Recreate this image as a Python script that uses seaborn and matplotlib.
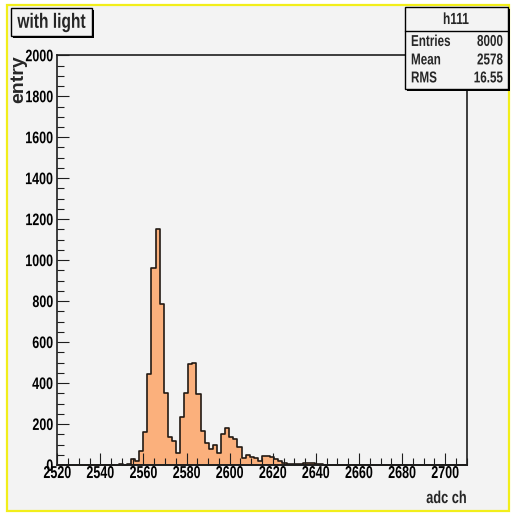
import numpy as np
import matplotlib
matplotlib.use("Agg")
import matplotlib.pyplot as plt
from matplotlib.patches import Rectangle
from matplotlib.lines import Line2D
from matplotlib.patheffects import AbstractPathEffect
from matplotlib.transforms import Affine2D
from matplotlib.ticker import MultipleLocator
import seaborn as sns

# ---- histogram h111: 100 bins over [2520, 2710) ----
X_MIN, X_MAX, N_BINS = 2520, 2710, 100
counts = (
    [0] * 10
    + [1, 1, 2, 1, 2, 3, 2, 4]
    + [31, 21, 70, 160, 444, 963, 1154, 784, 350, 135, 117, 58,
       233, 353, 494, 499, 345, 164, 106, 78, 98, 60,
       150, 179, 138, 125, 88, 34, 47, 41, 33, 21, 42, 42, 40]
    + [30, 20, 11, 6, 5, 5, 6, 10, 10, 9, 4, 3, 2, 2, 1, 1, 1, 1]
    + [0] * 29
)
x_ticks = [2520, 2540, 2560, 2580, 2600, 2620, 2640, 2660, 2680, 2700]
y_ticks = [0, 200, 400, 600, 800, 1000, 1200, 1400, 1600, 1800, 2000]

hist_name = "h111"
stat_entries = "8000"
stat_mean = "2578"
stat_rms = "16.55"
title_text = "with light"
x_title = "adc ch"
y_title = "entry"

FILL = "#fbb07c"
EDGE = "#231a14"
PAD_BG = "#f3f3f3"
FRAME = "#1e1e1e"

W, H = 511, 515


class Tall(AbstractPathEffect):
    """Stretch glyphs vertically around a pivot (tall, narrow lettering)."""

    def __init__(self, factor=1.35, pivot="center"):
        super().__init__()
        self.factor = factor
        self.pivot = pivot

    def draw_path(self, renderer, gc, tpath, affine, rgbFace=None):
        ext = tpath.get_extents()
        py = {"top": ext.y1, "center": 0.5 * (ext.y0 + ext.y1),
              "bottom": ext.y0, "baseline": 0.0}[self.pivot]
        stretch = Affine2D().translate(0, -py).scale(1, self.factor).translate(0, py)
        renderer.draw_path(gc, tpath, stretch + affine, rgbFace)


def fx(x):
    return x / W


def fy(y):
    return 1 - y / H


sns.set_style("white")
plt.rcParams["font.family"] = ["Liberation Sans", "DejaVu Sans"]

fig = plt.figure(figsize=(W / 100, H / 100), dpi=100)
fig.patch.set_facecolor("white")

# canvas pad with its yellow border
fig.add_artist(Rectangle((fx(7), fy(511)), fx(509) - fx(7), fy(5) - fy(511),
                         transform=fig.transFigure, facecolor=PAD_BG,
                         edgecolor="#f2ee1a", lw=1.6, zorder=-10))

ax = fig.add_axes([fx(57.3), fy(465), fx(466.7) - fx(57.3), fy(55.3) - fy(465)])
ax.set_facecolor(PAD_BG)

width = (X_MAX - X_MIN) / N_BINS
centers = X_MIN + (np.arange(N_BINS) + 0.5) * width
sns.histplot(x=centers, weights=counts, bins=N_BINS, binrange=(X_MIN, X_MAX),
             element="step", fill=True, color=FILL, alpha=1.0,
             edgecolor=EDGE, linewidth=1.2, ax=ax)

ax.set_xlim(X_MIN, X_MAX)
ax.set_ylim(0, 2000)
ax.set_axisbelow(False)

for s in ax.spines.values():
    s.set_visible(True)
    s.set_color(FRAME)
    s.set_linewidth(1.2)

ax.set_xticks(x_ticks)
ax.set_yticks(y_ticks)
ax.xaxis.set_minor_locator(MultipleLocator(5))
ax.yaxis.set_minor_locator(MultipleLocator(50))
ax.tick_params(which="both", direction="in", color=FRAME, width=0.8,
               top=False, right=False, bottom=True, left=True)
ax.tick_params(which="major", length=8.6)
ax.tick_params(which="minor", length=4.7)
ax.tick_params(axis="x", pad=0.5)
ax.tick_params(axis="y", pad=2.9)

ax.set_xticklabels([str(v) for v in x_ticks], fontsize=9, fontweight="bold", color="black")
ax.set_yticklabels([str(v) for v in y_ticks], fontsize=9, fontweight="bold", color="black")
for lbl in ax.get_xticklabels():
    lbl.set_path_effects([Tall(1.38, "top")])
for lbl in ax.get_yticklabels():
    lbl.set_path_effects([Tall(1.33, "center")])

ax.set_xlabel(x_title, loc="right", fontsize=9.2, fontweight="bold")
ax.xaxis.set_label_coords(1.0, -0.063)
ax.xaxis.label.set_path_effects([Tall(1.35, "top")])

ax.set_ylabel(y_title, loc="top", fontsize=14, fontweight="bold")
ax.yaxis.set_label_coords(-0.073, 1.0)

# title pave
fig.add_artist(Rectangle((fx(13), fy(38)), fx(94) - fx(13), fy(10) - fy(38),
                         transform=fig.transFigure, facecolor="black", lw=0, zorder=5))
fig.add_artist(Rectangle((fx(11), fy(36)), fx(92) - fx(11), fy(8) - fy(36),
                         transform=fig.transFigure, facecolor=PAD_BG,
                         edgecolor="black", lw=1.0, zorder=6))
fig.text(fx(51.5), fy(22), title_text, ha="center", va="center", fontsize=11.2,
         fontweight="bold", zorder=7, path_effects=[Tall(1.33, "center")])

# statistics box
fig.add_artist(Rectangle((fx(407), fy(91)), fx(510) - fx(407), fy(9) - fy(91),
                         transform=fig.transFigure, facecolor="black", lw=0, zorder=5))
fig.add_artist(Rectangle((fx(405), fy(89)), fx(508) - fx(405), fy(7) - fy(89),
                         transform=fig.transFigure, facecolor=PAD_BG,
                         edgecolor="black", lw=1.0, zorder=6))
fig.add_artist(Line2D([fx(405), fx(508)], [fy(30.5), fy(30.5)],
                      transform=fig.transFigure, color="black", lw=1.0, zorder=7))
fig.text(fx(456), fy(19.5), hist_name, ha="center", va="center", fontsize=8.6,
         fontweight="bold", zorder=7, path_effects=[Tall(1.35, "center")])
rows = [("Entries", stat_entries, 41.5), ("Mean", stat_mean, 60), ("RMS", stat_rms, 78)]
for name, val, yy in rows:
    fig.text(fx(411), fy(yy), name, ha="left", va="center", fontsize=8.4,
             fontweight="bold", zorder=7, path_effects=[Tall(1.35, "center")])
    fig.text(fx(503), fy(yy), val, ha="right", va="center", fontsize=8.4,
             fontweight="bold", zorder=7, path_effects=[Tall(1.35, "center")])

fig.savefig("out.png", dpi=100, facecolor=fig.get_facecolor())
